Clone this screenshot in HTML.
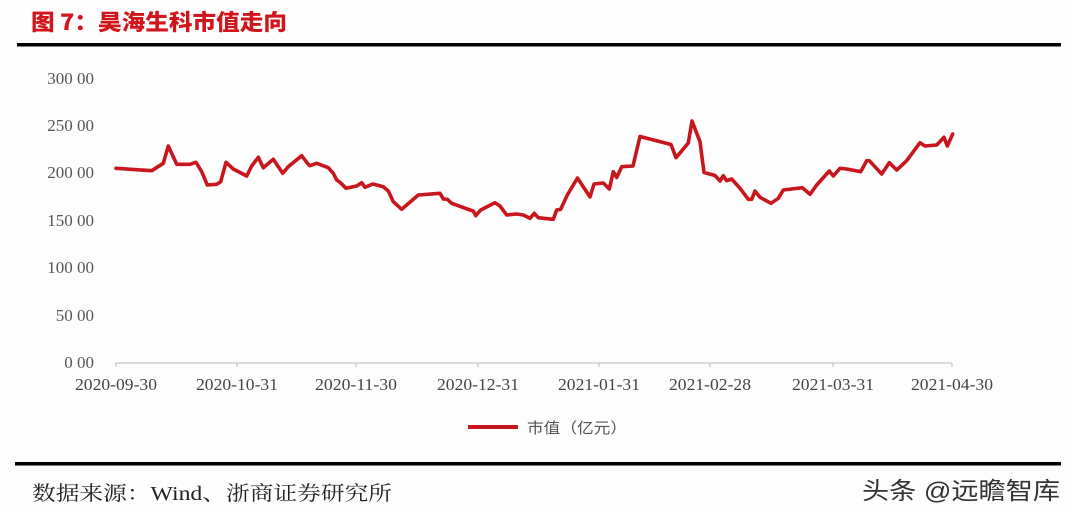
<!DOCTYPE html>
<html><head><meta charset="utf-8"><style>
html,body{margin:0;padding:0;background:#fdfdfd;}
body{width:1074px;height:512px;overflow:hidden;position:relative;}
svg{position:absolute;left:0;top:0;}
</style></head><body>
<svg width="1074" height="512" viewBox="0 0 1074 512" xmlns="http://www.w3.org/2000/svg">
<rect x="0" y="0" width="1074" height="512" fill="#fdfdfd"/>
<text x="31" y="30" font-family="'Noto Sans CJK SC', sans-serif" font-weight="900" font-size="22" fill="#d0161c" textLength="256" lengthAdjust="spacingAndGlyphs">图 7：昊海生科市值走向</text>
<rect x="17" y="43" width="1044" height="3.5" fill="#000"/>
<g font-family="'Liberation Serif', serif" font-size="17" fill="#555" text-anchor="end">
<text x="94" y="84">300 00</text>
<text x="94" y="131">250 00</text>
<text x="94" y="178">200 00</text>
<text x="94" y="226">150 00</text>
<text x="94" y="273">100 00</text>
<text x="94" y="321">50 00</text>
<text x="94" y="368">0 00</text>
</g>
<line x1="115" y1="363" x2="952" y2="363" stroke="#bbb" stroke-width="1"/>
<g stroke="#bbb" stroke-width="1">
<line x1="116" y1="363" x2="116" y2="367"/><line x1="237" y1="363" x2="237" y2="367"/><line x1="356" y1="363" x2="356" y2="367"/><line x1="478" y1="363" x2="478" y2="367"/><line x1="599" y1="363" x2="599" y2="367"/><line x1="710" y1="363" x2="710" y2="367"/><line x1="833" y1="363" x2="833" y2="367"/><line x1="952" y1="363" x2="952" y2="367"/>
</g>
<g font-family="'Liberation Serif', serif" font-size="17" fill="#444" text-anchor="middle">
<text x="116" y="390" textLength="82" lengthAdjust="spacingAndGlyphs">2020-09-30</text>
<text x="237" y="390" textLength="82" lengthAdjust="spacingAndGlyphs">2020-10-31</text>
<text x="356" y="390" textLength="82" lengthAdjust="spacingAndGlyphs">2020-11-30</text>
<text x="478" y="390" textLength="82" lengthAdjust="spacingAndGlyphs">2020-12-31</text>
<text x="599" y="390" textLength="82" lengthAdjust="spacingAndGlyphs">2021-01-31</text>
<text x="710" y="390" textLength="82" lengthAdjust="spacingAndGlyphs">2021-02-28</text>
<text x="833" y="390" textLength="82" lengthAdjust="spacingAndGlyphs">2021-03-31</text>
<text x="952" y="390" textLength="82" lengthAdjust="spacingAndGlyphs">2021-04-30</text>
</g>
<polyline fill="none" stroke="#c8161d" stroke-width="3.6" stroke-linejoin="round" stroke-linecap="round" points="116,168.3 151.7,170.7 163.3,163.3 168.3,146 176.7,164.3 190,164.3 196,162.3 201.7,171.7 207.3,185 216.7,184.3 220.7,181.7 226,162.3 233.3,169 246.7,176 251.7,166 258.3,157.3 263.3,167.7 273.3,159.3 282.7,173.3 288.3,166.7 301.7,155.7 308.3,164.3 310,165.7 316.7,163.3 328.3,167.7 333.3,173.3 336.7,180 340,182.3 346,188.3 356.7,186 361.7,182.7 365,187.3 372.7,184 383.3,186.7 388.3,191 393.3,201.7 401.7,209.3 418.3,195 440,193.3 443.3,199 447.3,199.3 451.7,203.3 470,210 473.3,211 475.7,215.7 480.7,210 495,202.7 500,206 506.7,215 516.7,214 523.3,215 530,218.3 534.3,213.3 538.3,217.7 543.3,218.3 553.3,219.3 556.7,210 560.7,209.3 567.3,195 577.5,178 590,197 594,184 603.3,183 609.3,189 613.3,171.7 616.7,177.5 621.7,166.7 633,166 640,136.5 671,144.5 676,157.7 688.3,143 692,121 700,141.7 704,172.5 715,175.5 720,181 723.3,175.7 726.7,180.7 731.7,179 740,188.3 748.3,199.3 751.7,199.3 755,191 760,197.3 771,203.3 778.3,198.3 783.3,190 802.3,187.7 810,194.3 816.7,185 829.3,171 833.3,176 840,168.3 846.7,169 860.7,171.7 866.7,160.7 869.3,160.7 881.7,174 889.3,162.7 896.7,170 906.7,160.7 920,142.7 925,146 936.7,145 944,137.3 947.3,146 952.7,134"/>
<line x1="468" y1="427" x2="518" y2="427" stroke="#c8161d" stroke-width="4"/>
<text x="527" y="433" font-family="'Liberation Sans','Noto Sans CJK SC', sans-serif" font-size="15" fill="#555" textLength="100" lengthAdjust="spacingAndGlyphs">市值（亿元）</text>
<rect x="15" y="462" width="1046" height="3.5" fill="#000"/>
<text x="32" y="500" font-family="'Liberation Serif','Noto Serif CJK SC', serif" font-size="20" fill="#222" textLength="360" lengthAdjust="spacingAndGlyphs">数据来源：Wind、浙商证券研究所</text>
<text x="862" y="499" font-family="'Liberation Sans','Noto Sans CJK SC', sans-serif" font-size="24" fill="#333" textLength="198" lengthAdjust="spacingAndGlyphs">头条 @远瞻智库</text>
</svg>
</body></html>
